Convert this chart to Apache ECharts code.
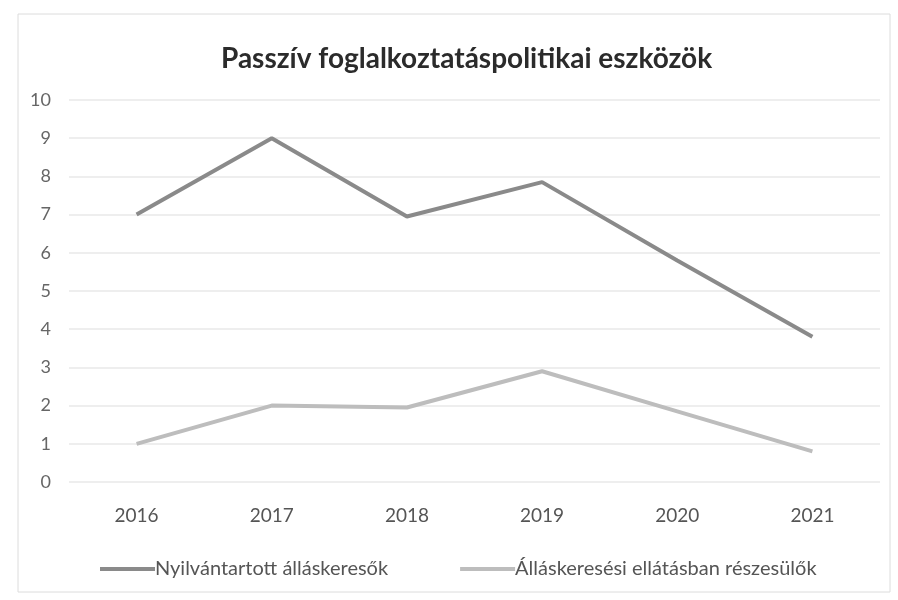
<!DOCTYPE html>
<html>
<head>
<meta charset="utf-8">
<script src="https://cdn.jsdelivr.net/npm/echarts@6/dist/echarts.min.js"></script>
<style>
  html, body { margin: 0; padding: 0; background: #fff; }
  #chart { width: 898px; height: 600px; }
</style>
</head>
<body>
<div id="chart"></div>
<script>
// adatok
const years = ['2016', '2017', '2018', '2019', '2020', '2021']
const nyilvantartott = [7, 9, 6.95, 7.85, 5.8, 3.8]
const ellatasban = [1, 2, 1.95, 2.9, 1.85, 0.8]
const seriesNames = ['Nyilvántartott álláskeresők', 'Álláskeresési ellátásban részesülők']
const colors = ['#8a8a8a', '#bdbdbd']

const chart = echarts.init(document.getElementById('chart'))

function lineSeries(name, data) {
  return {
    name: name,
    type: 'line',
    data: data,
    symbol: 'none',
    lineStyle: { width: 4 },
    emphasis: { disabled: true }
  }
}

chart.setOption({
  color: colors,
  textStyle: { fontFamily: 'Lato' },
  title: {
    text: 'Passzív foglalkoztatáspolitikai eszközök',
    left: 216,
    top: 40,
    textStyle: { fontFamily: 'Lato', fontSize: 28, fontWeight: 'bold', color: '#2b2b2b' }
  },
  // keret
  graphic: [{
    type: 'rect',
    shape: { x: 18, y: 14, width: 872, height: 578 },
    style: { fill: null, stroke: '#dcdcdc', lineWidth: 1 },
    silent: true
  }],
  legend: {
    bottom: 16,
    left: 95,
    itemGap: 72,
    itemWidth: 55,
    itemHeight: 4,
    icon: 'rect',
    textStyle: { fontSize: 20, color: '#555', padding: [0, 0, 0, -5] },
    data: seriesNames
  },
  grid: { left: 69, right: 18, top: 100, bottom: 118 },
  xAxis: {
    type: 'category',
    data: years,
    axisLine: { show: false },
    axisTick: { show: false },
    axisLabel: { fontSize: 19, color: '#555', margin: 24 }
  },
  yAxis: {
    type: 'value',
    min: 0,
    max: 10,
    interval: 1,
    axisLabel: { fontSize: 18, color: '#666', margin: 18 },
    splitLine: { lineStyle: { color: '#e8e8e8', width: 1.5 } }
  },
  series: [
    lineSeries(seriesNames[0], nyilvantartott),
    lineSeries(seriesNames[1], ellatasban)
  ]
})
</script>
</body>
</html>
